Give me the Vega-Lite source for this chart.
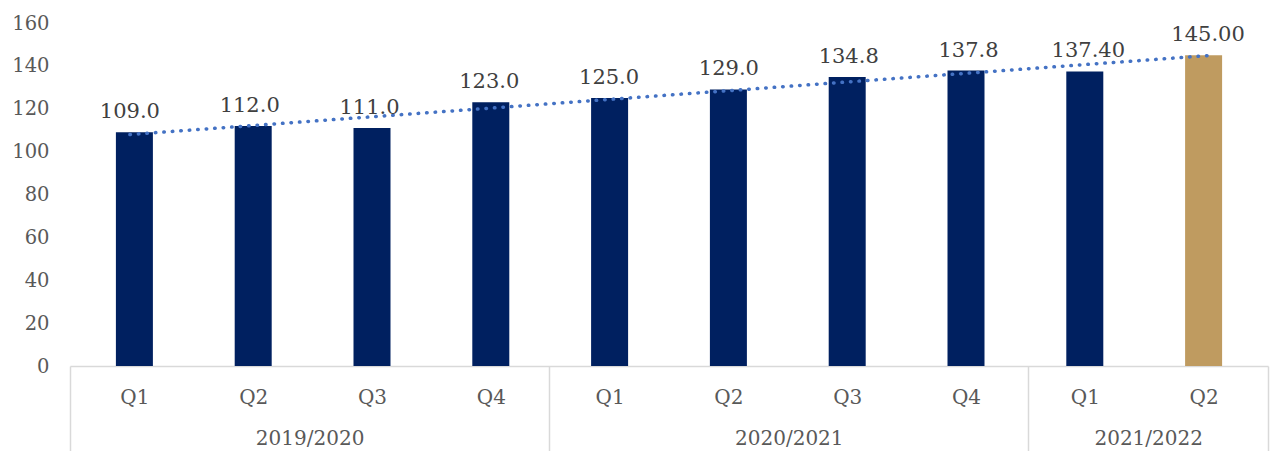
{
  "$schema": "https://vega.github.io/schema/vega-lite/v6.json",
  "width": 1198,
  "height": 343,
  "autosize": "none",
  "padding": {"left": 70, "top": 23, "right": 6, "bottom": 85},
  "config": {"view": {"stroke": null}, "font": "DejaVu Serif", "axis": {"labelFont": "DejaVu Serif"}},
  "data": {
    "values": [
      {"i": 1, "year": "2019/2020", "quarter": "Q1", "value": 109.0, "label": "109.0", "series": "Historical"},
      {"i": 2, "year": "2019/2020", "quarter": "Q2", "value": 112.0, "label": "112.0", "series": "Historical"},
      {"i": 3, "year": "2019/2020", "quarter": "Q3", "value": 111.0, "label": "111.0", "series": "Historical"},
      {"i": 4, "year": "2019/2020", "quarter": "Q4", "value": 123.0, "label": "123.0", "series": "Historical"},
      {"i": 5, "year": "2020/2021", "quarter": "Q1", "value": 125.0, "label": "125.0", "series": "Historical"},
      {"i": 6, "year": "2020/2021", "quarter": "Q2", "value": 129.0, "label": "129.0", "series": "Historical"},
      {"i": 7, "year": "2020/2021", "quarter": "Q3", "value": 134.8, "label": "134.8", "series": "Historical"},
      {"i": 8, "year": "2020/2021", "quarter": "Q4", "value": 137.8, "label": "137.8", "series": "Historical"},
      {"i": 9, "year": "2021/2022", "quarter": "Q1", "value": 137.4, "label": "137.40", "series": "Historical"},
      {"i": 10, "year": "2021/2022", "quarter": "Q2", "value": 145.0, "label": "145.00", "series": "Current"}
    ]
  },
  "resolve": {"scale": {"x": "independent"}, "axis": {"x": "independent"}},
  "layer": [
    {
      "mark": {"type": "bar", "width": 37},
      "encoding": {
        "x": {
          "field": "i", "type": "quantitative",
          "scale": {"domain": [0.5, 10.5], "nice": false, "zero": false},
          "axis": {
            "orient": "bottom",
            "values": [1, 2, 3, 4, 5, 6, 7, 8, 9, 10],
            "labelExpr": "['Q1','Q2','Q3','Q4','Q1','Q2','Q3','Q4','Q1','Q2'][datum.value - 1]",
            "ticks": false, "grid": false, "title": null,
            "domain": true, "domainColor": "#D9D9D9", "domainWidth": 1.5,
            "labelPadding": 21, "labelFontSize": 20, "labelColor": "#595959"
          }
        },
        "y": {
          "field": "value", "type": "quantitative",
          "scale": {"domain": [0, 160], "nice": false},
          "axis": {
            "values": [0, 20, 40, 60, 80, 100, 120, 140, 160],
            "ticks": false, "domain": false, "grid": false, "title": null,
            "labelPadding": 21, "labelFontSize": 19.5, "labelColor": "#595959"
          }
        },
        "color": {
          "field": "series", "type": "nominal",
          "scale": {"domain": ["Historical", "Current"], "range": ["#002060", "#BF9B60"]},
          "legend": null
        }
      }
    },
    {
      "transform": [{"regression": "value", "on": "i"}],
      "mark": {"type": "line", "strokeDash": [0.5, 8], "strokeCap": "round", "strokeWidth": 3.5, "color": "#4472C4"},
      "encoding": {
        "x": {
          "field": "i", "type": "quantitative",
          "scale": {"domain": [0.5, 10.5], "nice": false, "zero": false},
          "axis": {
            "orient": "bottom",
            "values": [0.5, 4.5, 8.5, 10.5],
            "labels": false, "tickSize": 85, "tickColor": "#D9D9D9", "tickWidth": 1.5,
            "domain": false, "grid": false, "title": null
          }
        },
        "y": {
          "field": "value", "type": "quantitative",
          "scale": {"domain": [0, 160], "nice": false},
          "axis": {
            "values": [0, 20, 40, 60, 80, 100, 120, 140, 160],
            "ticks": false, "domain": false, "grid": false, "title": null,
            "labelPadding": 21, "labelFontSize": 19.5, "labelColor": "#595959"
          }
        }
      }
    },
    {
      "mark": {"type": "text", "baseline": "bottom", "dy": -10, "fontSize": 21, "color": "#404040"},
      "encoding": {
        "x": {
          "field": "i", "type": "quantitative",
          "scale": {"domain": [0.5, 10.5], "nice": false, "zero": false},
          "axis": {
            "orient": "bottom",
            "values": [2.5, 6.5, 9.5],
            "labelExpr": "datum.value < 4 ? '2019/2020' : datum.value < 8 ? '2020/2021' : '2021/2022'",
            "ticks": false, "domain": false, "grid": false, "title": null,
            "labelPadding": 62, "labelFontSize": 20, "labelColor": "#595959"
          }
        },
        "y": {
          "field": "value", "type": "quantitative",
          "scale": {"domain": [0, 160], "nice": false},
          "axis": {
            "values": [0, 20, 40, 60, 80, 100, 120, 140, 160],
            "ticks": false, "domain": false, "grid": false, "title": null,
            "labelPadding": 21, "labelFontSize": 19.5, "labelColor": "#595959"
          }
        },
        "text": {"field": "label"}
      }
    }
  ]
}
